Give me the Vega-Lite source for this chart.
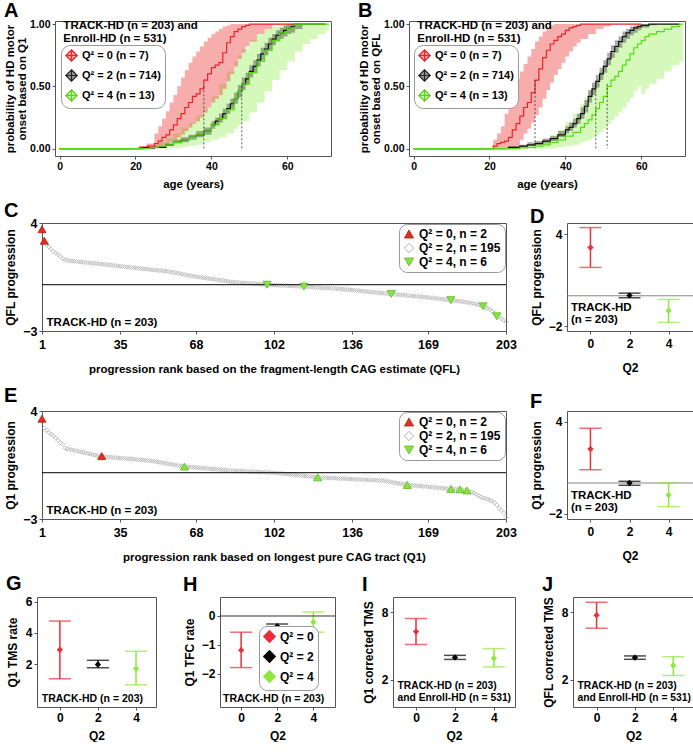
{
"$schema":"https://vega.github.io/schema/vega-lite/v6.json",
"padding":{"left":3,"top":0,"right":0,"bottom":0},
"background":"white",
"config":{
 "font":"Liberation Sans",
 "view":{"stroke":"#555555","strokeWidth":1},
 "axis":{"grid":false,"domain":false,"ticks":true,"tickSize":3,"tickColor":"#555555","labelFont":"Liberation Sans","labelFontSize":12,"labelFontWeight":"bold","labelColor":"#000000","labelPadding":2,"labelFlush":false,"labelOverlap":false,"titleFont":"Liberation Sans","titleFontSize":12,"titleFontWeight":"bold","titleColor":"#000000","titlePadding":5},
 "axisX":{"titlePadding":13,"labelPadding":4},
 "legend":{"labelFont":"Liberation Sans","labelFontSize":12,"labelFontWeight":"bold","labelColor":"#000000","fillColor":"white","strokeColor":"#999999","cornerRadius":8,"padding":4,"rowPadding":1,"symbolStrokeWidth":0.8},
 "title":{"font":"Liberation Sans","fontSize":20,"fontWeight":"bold","anchor":"start","frame":"bounds","offset":0,"color":"#000000"}
},
"datasets":{
 "A":[
  {"g":0,"a":0,"p":0,"lo":0,"hi":0},{"g":0,"a":21,"p":0.01,"lo":0,"hi":0.02},{"g":0,"a":23,"p":0.02,"lo":0,"hi":0.04},{"g":0,"a":25,"p":0.04,"lo":0,"hi":0.12},{"g":0,"a":26,"p":0.06,"lo":0.01,"hi":0.18},{"g":0,"a":27,"p":0.09,"lo":0.02,"hi":0.24},{"g":0,"a":28,"p":0.11,"lo":0.03,"hi":0.30},{"g":0,"a":29,"p":0.15,"lo":0.05,"hi":0.37},{"g":0,"a":30,"p":0.19,"lo":0.07,"hi":0.43},{"g":0,"a":31,"p":0.24,"lo":0.09,"hi":0.50},{"g":0,"a":32,"p":0.28,"lo":0.11,"hi":0.57},{"g":0,"a":33,"p":0.33,"lo":0.14,"hi":0.63},{"g":0,"a":34,"p":0.37,"lo":0.17,"hi":0.69},{"g":0,"a":35,"p":0.42,"lo":0.20,"hi":0.74},{"g":0,"a":36,"p":0.44,"lo":0.22,"hi":0.78},{"g":0,"a":37,"p":0.48,"lo":0.25,"hi":0.82},{"g":0,"a":38,"p":0.55,"lo":0.29,"hi":0.86},{"g":0,"a":39,"p":0.60,"lo":0.33,"hi":0.89},{"g":0,"a":40,"p":0.65,"lo":0.37,"hi":0.92},{"g":0,"a":41,"p":0.67,"lo":0.40,"hi":0.94},{"g":0,"a":42,"p":0.69,"lo":0.43,"hi":0.96},{"g":0,"a":43,"p":0.77,"lo":0.48,"hi":0.98},{"g":0,"a":44,"p":0.85,"lo":0.54,"hi":0.99},{"g":0,"a":45,"p":0.90,"lo":0.60,"hi":1},{"g":0,"a":46,"p":0.94,"lo":0.66,"hi":1},{"g":0,"a":47,"p":0.96,"lo":0.72,"hi":1},{"g":0,"a":48,"p":0.98,"lo":0.77,"hi":1},{"g":0,"a":49,"p":0.99,"lo":0.82,"hi":1},{"g":0,"a":50,"p":1,"lo":0.86,"hi":1},{"g":0,"a":52,"p":1,"lo":0.92,"hi":1},{"g":0,"a":54,"p":1,"lo":0.96,"hi":1},{"g":0,"a":56,"p":1,"lo":0.99,"hi":1},{"g":0,"a":58,"p":1,"lo":1,"hi":1},{"g":0,"a":62,"p":1,"lo":1,"hi":1},
  {"g":2,"a":0,"p":0,"lo":0,"hi":0},{"g":2,"a":22,"p":0.005,"lo":0,"hi":0.01},{"g":2,"a":25,"p":0.01,"lo":0.005,"hi":0.02},{"g":2,"a":28,"p":0.03,"lo":0.02,"hi":0.04},{"g":2,"a":30,"p":0.05,"lo":0.04,"hi":0.07},{"g":2,"a":32,"p":0.07,"lo":0.05,"hi":0.09},{"g":2,"a":34,"p":0.09,"lo":0.07,"hi":0.11},{"g":2,"a":36,"p":0.11,"lo":0.09,"hi":0.14},{"g":2,"a":38,"p":0.14,"lo":0.11,"hi":0.17},{"g":2,"a":40,"p":0.19,"lo":0.16,"hi":0.22},{"g":2,"a":41,"p":0.22,"lo":0.19,"hi":0.25},{"g":2,"a":42,"p":0.24,"lo":0.21,"hi":0.28},{"g":2,"a":43,"p":0.28,"lo":0.24,"hi":0.32},{"g":2,"a":44,"p":0.32,"lo":0.28,"hi":0.36},{"g":2,"a":45,"p":0.36,"lo":0.32,"hi":0.40},{"g":2,"a":46,"p":0.40,"lo":0.36,"hi":0.45},{"g":2,"a":47,"p":0.46,"lo":0.41,"hi":0.51},{"g":2,"a":48,"p":0.52,"lo":0.47,"hi":0.57},{"g":2,"a":49,"p":0.56,"lo":0.51,"hi":0.61},{"g":2,"a":50,"p":0.62,"lo":0.57,"hi":0.67},{"g":2,"a":51,"p":0.66,"lo":0.61,"hi":0.71},{"g":2,"a":52,"p":0.71,"lo":0.66,"hi":0.76},{"g":2,"a":53,"p":0.76,"lo":0.71,"hi":0.81},{"g":2,"a":54,"p":0.80,"lo":0.75,"hi":0.85},{"g":2,"a":55,"p":0.84,"lo":0.79,"hi":0.89},{"g":2,"a":56,"p":0.88,"lo":0.83,"hi":0.92},{"g":2,"a":57,"p":0.91,"lo":0.86,"hi":0.95},{"g":2,"a":58,"p":0.93,"lo":0.88,"hi":0.97},{"g":2,"a":59,"p":0.95,"lo":0.90,"hi":0.99},{"g":2,"a":60,"p":0.97,"lo":0.92,"hi":1},{"g":2,"a":61,"p":0.98,"lo":0.93,"hi":1},{"g":2,"a":62,"p":1,"lo":0.96,"hi":1},{"g":2,"a":64,"p":1,"lo":1,"hi":1},{"g":2,"a":70,"p":1,"lo":1,"hi":1},
  {"g":4,"a":0,"p":0,"lo":0,"hi":0},{"g":4,"a":24,"p":0.01,"lo":0,"hi":0.03},{"g":4,"a":26,"p":0.02,"lo":0,"hi":0.05},{"g":4,"a":28,"p":0.03,"lo":0,"hi":0.08},{"g":4,"a":30,"p":0.05,"lo":0,"hi":0.12},{"g":4,"a":32,"p":0.07,"lo":0.01,"hi":0.17},{"g":4,"a":34,"p":0.09,"lo":0.02,"hi":0.21},{"g":4,"a":36,"p":0.11,"lo":0.03,"hi":0.27},{"g":4,"a":38,"p":0.14,"lo":0.05,"hi":0.33},{"g":4,"a":40,"p":0.19,"lo":0.07,"hi":0.42},{"g":4,"a":42,"p":0.24,"lo":0.09,"hi":0.52},{"g":4,"a":44,"p":0.31,"lo":0.12,"hi":0.62},{"g":4,"a":46,"p":0.40,"lo":0.16,"hi":0.70},{"g":4,"a":47,"p":0.46,"lo":0.19,"hi":0.75},{"g":4,"a":48,"p":0.52,"lo":0.22,"hi":0.80},{"g":4,"a":50,"p":0.61,"lo":0.29,"hi":0.87},{"g":4,"a":52,"p":0.70,"lo":0.37,"hi":0.92},{"g":4,"a":54,"p":0.79,"lo":0.46,"hi":0.96},{"g":4,"a":56,"p":0.87,"lo":0.55,"hi":0.98},{"g":4,"a":58,"p":0.93,"lo":0.63,"hi":1},{"g":4,"a":60,"p":0.97,"lo":0.70,"hi":1},{"g":4,"a":62,"p":1,"lo":0.78,"hi":1},{"g":4,"a":64,"p":1,"lo":0.84,"hi":1},{"g":4,"a":66,"p":1,"lo":0.88,"hi":1},{"g":4,"a":68,"p":1,"lo":0.92,"hi":1},{"g":4,"a":70,"p":1,"lo":0.95,"hi":1},{"g":4,"a":71,"p":1,"lo":0.95,"hi":1}
 ],
 "Amed":[{"g":0,"a":38,"p":0.5},{"g":2,"a":48,"p":0.5}],
 "B":[
  {"g":0,"a":0,"p":0,"lo":0,"hi":0},{"g":0,"a":21,"p":0.02,"lo":0,"hi":0.07},{"g":0,"a":22,"p":0.04,"lo":0,"hi":0.12},{"g":0,"a":23,"p":0.05,"lo":0,"hi":0.18},{"g":0,"a":24,"p":0.06,"lo":0,"hi":0.28},{"g":0,"a":25,"p":0.09,"lo":0,"hi":0.38},{"g":0,"a":26,"p":0.15,"lo":0,"hi":0.48},{"g":0,"a":27,"p":0.20,"lo":0.02,"hi":0.56},{"g":0,"a":28,"p":0.26,"lo":0.07,"hi":0.62},{"g":0,"a":29,"p":0.33,"lo":0.12,"hi":0.68},{"g":0,"a":30,"p":0.37,"lo":0.16,"hi":0.74},{"g":0,"a":31,"p":0.45,"lo":0.21,"hi":0.80},{"g":0,"a":32,"p":0.55,"lo":0.27,"hi":0.86},{"g":0,"a":33,"p":0.64,"lo":0.33,"hi":0.90},{"g":0,"a":34,"p":0.73,"lo":0.40,"hi":0.94},{"g":0,"a":35,"p":0.79,"lo":0.47,"hi":0.97},{"g":0,"a":36,"p":0.84,"lo":0.53,"hi":0.99},{"g":0,"a":37,"p":0.87,"lo":0.59,"hi":1},{"g":0,"a":38,"p":0.90,"lo":0.64,"hi":1},{"g":0,"a":39,"p":0.92,"lo":0.69,"hi":1},{"g":0,"a":40,"p":0.95,"lo":0.74,"hi":1},{"g":0,"a":41,"p":0.97,"lo":0.78,"hi":1},{"g":0,"a":42,"p":0.98,"lo":0.82,"hi":1},{"g":0,"a":43,"p":0.99,"lo":0.85,"hi":1},{"g":0,"a":44,"p":1,"lo":0.88,"hi":1},{"g":0,"a":46,"p":1,"lo":0.92,"hi":1},{"g":0,"a":48,"p":1,"lo":0.96,"hi":1},{"g":0,"a":50,"p":1,"lo":0.98,"hi":1},{"g":0,"a":52,"p":1,"lo":1,"hi":1},{"g":0,"a":60,"p":1,"lo":1,"hi":1},
  {"g":2,"a":0,"p":0,"lo":0,"hi":0},{"g":2,"a":25,"p":0.01,"lo":0,"hi":0.02},{"g":2,"a":28,"p":0.02,"lo":0.01,"hi":0.03},{"g":2,"a":30,"p":0.03,"lo":0.02,"hi":0.05},{"g":2,"a":32,"p":0.04,"lo":0.03,"hi":0.06},{"g":2,"a":34,"p":0.06,"lo":0.04,"hi":0.08},{"g":2,"a":36,"p":0.08,"lo":0.06,"hi":0.10},{"g":2,"a":38,"p":0.11,"lo":0.09,"hi":0.14},{"g":2,"a":40,"p":0.15,"lo":0.12,"hi":0.18},{"g":2,"a":41,"p":0.17,"lo":0.14,"hi":0.21},{"g":2,"a":42,"p":0.20,"lo":0.17,"hi":0.24},{"g":2,"a":43,"p":0.24,"lo":0.20,"hi":0.28},{"g":2,"a":44,"p":0.28,"lo":0.24,"hi":0.33},{"g":2,"a":45,"p":0.34,"lo":0.29,"hi":0.39},{"g":2,"a":46,"p":0.42,"lo":0.37,"hi":0.47},{"g":2,"a":47,"p":0.48,"lo":0.43,"hi":0.53},{"g":2,"a":48,"p":0.54,"lo":0.49,"hi":0.59},{"g":2,"a":49,"p":0.60,"lo":0.55,"hi":0.65},{"g":2,"a":50,"p":0.66,"lo":0.61,"hi":0.71},{"g":2,"a":51,"p":0.72,"lo":0.67,"hi":0.77},{"g":2,"a":52,"p":0.78,"lo":0.73,"hi":0.83},{"g":2,"a":53,"p":0.82,"lo":0.77,"hi":0.87},{"g":2,"a":54,"p":0.86,"lo":0.81,"hi":0.90},{"g":2,"a":55,"p":0.90,"lo":0.85,"hi":0.94},{"g":2,"a":56,"p":0.93,"lo":0.88,"hi":0.96},{"g":2,"a":57,"p":0.95,"lo":0.91,"hi":0.98},{"g":2,"a":58,"p":0.97,"lo":0.93,"hi":0.99},{"g":2,"a":59,"p":0.98,"lo":0.95,"hi":1},{"g":2,"a":60,"p":0.99,"lo":0.97,"hi":1},{"g":2,"a":62,"p":1,"lo":0.99,"hi":1},{"g":2,"a":64,"p":1,"lo":1,"hi":1},{"g":2,"a":70,"p":1,"lo":1,"hi":1},
  {"g":4,"a":0,"p":0,"lo":0,"hi":0},{"g":4,"a":28,"p":0.005,"lo":0,"hi":0.02},{"g":4,"a":30,"p":0.01,"lo":0,"hi":0.03},{"g":4,"a":32,"p":0.02,"lo":0,"hi":0.05},{"g":4,"a":34,"p":0.03,"lo":0,"hi":0.07},{"g":4,"a":36,"p":0.05,"lo":0,"hi":0.11},{"g":4,"a":38,"p":0.07,"lo":0.01,"hi":0.15},{"g":4,"a":40,"p":0.10,"lo":0.02,"hi":0.21},{"g":4,"a":42,"p":0.13,"lo":0.03,"hi":0.28},{"g":4,"a":44,"p":0.17,"lo":0.05,"hi":0.36},{"g":4,"a":45,"p":0.20,"lo":0.06,"hi":0.41},{"g":4,"a":46,"p":0.23,"lo":0.07,"hi":0.46},{"g":4,"a":47,"p":0.27,"lo":0.09,"hi":0.51},{"g":4,"a":48,"p":0.32,"lo":0.11,"hi":0.56},{"g":4,"a":49,"p":0.37,"lo":0.13,"hi":0.62},{"g":4,"a":50,"p":0.42,"lo":0.16,"hi":0.67},{"g":4,"a":51,"p":0.50,"lo":0.20,"hi":0.73},{"g":4,"a":52,"p":0.55,"lo":0.23,"hi":0.77},{"g":4,"a":53,"p":0.58,"lo":0.26,"hi":0.81},{"g":4,"a":54,"p":0.62,"lo":0.29,"hi":0.84},{"g":4,"a":55,"p":0.67,"lo":0.33,"hi":0.88},{"g":4,"a":56,"p":0.71,"lo":0.37,"hi":0.91},{"g":4,"a":57,"p":0.76,"lo":0.41,"hi":0.94},{"g":4,"a":58,"p":0.81,"lo":0.46,"hi":0.97},{"g":4,"a":59,"p":0.84,"lo":0.50,"hi":0.99},{"g":4,"a":60,"p":0.87,"lo":0.44,"hi":1},{"g":4,"a":61,"p":0.90,"lo":0.48,"hi":1},{"g":4,"a":62,"p":0.92,"lo":0.52,"hi":1},{"g":4,"a":64,"p":0.94,"lo":0.56,"hi":1},{"g":4,"a":66,"p":0.96,"lo":0.62,"hi":1},{"g":4,"a":68,"p":0.98,"lo":0.67,"hi":1},{"g":4,"a":70,"p":1,"lo":0.70,"hi":1},{"g":4,"a":71,"p":1,"lo":0.70,"hi":1}
 ],
 "Bmed":[{"g":0,"a":32,"p":0.55},{"g":2,"a":48,"p":0.5},{"g":4,"a":51,"p":0.52}],
 "Cg":[{"r":3,"v":2.62},{"r":4,"v":2.45},{"r":5,"v":2.30},{"r":6,"v":2.15},{"r":7,"v":2.05},{"r":8,"v":1.95},{"r":9,"v":1.85},{"r":10,"v":1.70},{"r":11,"v":1.62},{"r":12,"v":1.58},{"r":13,"v":1.55},{"r":14,"v":1.53},{"r":15,"v":1.52},{"r":16,"v":1.50},{"r":17,"v":1.49},{"r":18,"v":1.47},{"r":19,"v":1.46},{"r":20,"v":1.44},{"r":21,"v":1.43},{"r":22,"v":1.41},{"r":23,"v":1.40},{"r":24,"v":1.38},{"r":25,"v":1.37},{"r":26,"v":1.35},{"r":27,"v":1.33},{"r":28,"v":1.32},{"r":29,"v":1.30},{"r":30,"v":1.28},{"r":31,"v":1.27},{"r":32,"v":1.25},{"r":33,"v":1.23},{"r":34,"v":1.22},{"r":35,"v":1.20},{"r":36,"v":1.18},{"r":37,"v":1.17},{"r":38,"v":1.15},{"r":39,"v":1.13},{"r":40,"v":1.12},{"r":41,"v":1.10},{"r":42,"v":1.08},{"r":43,"v":1.07},{"r":44,"v":1.05},{"r":45,"v":1.03},{"r":46,"v":1.02},{"r":47,"v":1.00},{"r":48,"v":0.98},{"r":49,"v":0.97},{"r":50,"v":0.95},{"r":51,"v":0.94},{"r":52,"v":0.92},{"r":53,"v":0.91},{"r":54,"v":0.89},{"r":55,"v":0.88},{"r":56,"v":0.85},{"r":57,"v":0.83},{"r":58,"v":0.80},{"r":59,"v":0.78},{"r":60,"v":0.75},{"r":61,"v":0.72},{"r":62,"v":0.69},{"r":63,"v":0.66},{"r":64,"v":0.63},{"r":65,"v":0.60},{"r":66,"v":0.58},{"r":67,"v":0.55},{"r":68,"v":0.53},{"r":69,"v":0.50},{"r":70,"v":0.48},{"r":71,"v":0.46},{"r":72,"v":0.44},{"r":73,"v":0.41},{"r":74,"v":0.39},{"r":75,"v":0.37},{"r":76,"v":0.35},{"r":77,"v":0.33},{"r":78,"v":0.30},{"r":79,"v":0.28},{"r":80,"v":0.26},{"r":81,"v":0.24},{"r":82,"v":0.22},{"r":83,"v":0.19},{"r":84,"v":0.17},{"r":85,"v":0.16},{"r":86,"v":0.15},{"r":87,"v":0.14},{"r":88,"v":0.12},{"r":89,"v":0.11},{"r":90,"v":0.10},{"r":91,"v":0.09},{"r":92,"v":0.08},{"r":93,"v":0.07},{"r":94,"v":0.06},{"r":95,"v":0.05},{"r":96,"v":0.03},{"r":97,"v":0.02},{"r":98,"v":0.01},{"r":100,"v":-0.01},{"r":101,"v":-0.02},{"r":102,"v":-0.02},{"r":103,"v":-0.03},{"r":104,"v":-0.04},{"r":105,"v":-0.05},{"r":106,"v":-0.05},{"r":107,"v":-0.06},{"r":108,"v":-0.07},{"r":109,"v":-0.08},{"r":110,"v":-0.08},{"r":111,"v":-0.09},{"r":112,"v":-0.10},{"r":113,"v":-0.11},{"r":114,"v":-0.11},{"r":116,"v":-0.13},{"r":117,"v":-0.14},{"r":118,"v":-0.15},{"r":119,"v":-0.16},{"r":120,"v":-0.17},{"r":121,"v":-0.18},{"r":122,"v":-0.19},{"r":123,"v":-0.20},{"r":124,"v":-0.21},{"r":125,"v":-0.22},{"r":126,"v":-0.23},{"r":127,"v":-0.24},{"r":128,"v":-0.25},{"r":129,"v":-0.26},{"r":130,"v":-0.27},{"r":131,"v":-0.28},{"r":132,"v":-0.29},{"r":133,"v":-0.31},{"r":134,"v":-0.32},{"r":135,"v":-0.33},{"r":136,"v":-0.35},{"r":137,"v":-0.36},{"r":138,"v":-0.38},{"r":139,"v":-0.39},{"r":140,"v":-0.41},{"r":141,"v":-0.42},{"r":142,"v":-0.44},{"r":143,"v":-0.45},{"r":144,"v":-0.47},{"r":145,"v":-0.48},{"r":146,"v":-0.50},{"r":147,"v":-0.51},{"r":148,"v":-0.53},{"r":149,"v":-0.54},{"r":150,"v":-0.56},{"r":151,"v":-0.57},{"r":152,"v":-0.59},{"r":154,"v":-0.61},{"r":155,"v":-0.63},{"r":156,"v":-0.64},{"r":157,"v":-0.66},{"r":158,"v":-0.67},{"r":159,"v":-0.68},{"r":160,"v":-0.70},{"r":161,"v":-0.71},{"r":162,"v":-0.73},{"r":163,"v":-0.74},{"r":164,"v":-0.75},{"r":165,"v":-0.77},{"r":166,"v":-0.78},{"r":167,"v":-0.80},{"r":168,"v":-0.81},{"r":169,"v":-0.82},{"r":170,"v":-0.84},{"r":171,"v":-0.86},{"r":172,"v":-0.88},{"r":173,"v":-0.89},{"r":174,"v":-0.91},{"r":175,"v":-0.93},{"r":176,"v":-0.95},{"r":177,"v":-0.96},{"r":178,"v":-0.98},{"r":180,"v":-1.02},{"r":181,"v":-1.04},{"r":182,"v":-1.06},{"r":183,"v":-1.08},{"r":184,"v":-1.10},{"r":185,"v":-1.12},{"r":186,"v":-1.15},{"r":187,"v":-1.17},{"r":188,"v":-1.20},{"r":189,"v":-1.22},{"r":190,"v":-1.25},{"r":191,"v":-1.30},{"r":192,"v":-1.35},{"r":194,"v":-1.47},{"r":195,"v":-1.53},{"r":196,"v":-1.60},{"r":197,"v":-1.72},{"r":198,"v":-1.85},{"r":200,"v":-2.10},{"r":201,"v":-2.20},{"r":202,"v":-2.30},{"r":203,"v":-2.40}],
 "Cc":[{"r":1,"v":3.6,"g":0},{"r":2,"v":2.85,"g":0},{"r":99,"v":0.0,"g":4},{"r":115,"v":-0.12,"g":4},{"r":153,"v":-0.6,"g":4},{"r":179,"v":-1.0,"g":4},{"r":193,"v":-1.4,"g":4},{"r":199,"v":-2.05,"g":4}],
 "Eg":[{"r":2,"v":2.90},{"r":3,"v":2.75},{"r":4,"v":2.60},{"r":5,"v":2.50},{"r":6,"v":2.40},{"r":7,"v":2.25},{"r":8,"v":2.10},{"r":9,"v":1.95},{"r":10,"v":1.85},{"r":11,"v":1.60},{"r":12,"v":1.55},{"r":13,"v":1.52},{"r":14,"v":1.49},{"r":15,"v":1.45},{"r":16,"v":1.42},{"r":17,"v":1.38},{"r":18,"v":1.35},{"r":19,"v":1.31},{"r":20,"v":1.28},{"r":21,"v":1.24},{"r":22,"v":1.21},{"r":23,"v":1.17},{"r":24,"v":1.14},{"r":25,"v":1.10},{"r":26,"v":1.07},{"r":28,"v":1.04},{"r":29,"v":1.02},{"r":30,"v":1.01},{"r":31,"v":1.00},{"r":32,"v":0.99},{"r":33,"v":0.97},{"r":34,"v":0.96},{"r":35,"v":0.95},{"r":36,"v":0.94},{"r":37,"v":0.92},{"r":38,"v":0.91},{"r":39,"v":0.90},{"r":40,"v":0.89},{"r":41,"v":0.87},{"r":42,"v":0.86},{"r":43,"v":0.85},{"r":44,"v":0.84},{"r":45,"v":0.82},{"r":46,"v":0.81},{"r":47,"v":0.80},{"r":48,"v":0.78},{"r":49,"v":0.75},{"r":50,"v":0.73},{"r":51,"v":0.70},{"r":52,"v":0.68},{"r":53,"v":0.65},{"r":54,"v":0.63},{"r":55,"v":0.60},{"r":56,"v":0.58},{"r":57,"v":0.55},{"r":58,"v":0.53},{"r":59,"v":0.50},{"r":60,"v":0.48},{"r":61,"v":0.45},{"r":62,"v":0.43},{"r":64,"v":0.39},{"r":65,"v":0.37},{"r":66,"v":0.36},{"r":67,"v":0.35},{"r":68,"v":0.34},{"r":69,"v":0.32},{"r":70,"v":0.31},{"r":71,"v":0.30},{"r":72,"v":0.28},{"r":73,"v":0.27},{"r":74,"v":0.26},{"r":75,"v":0.24},{"r":76,"v":0.23},{"r":77,"v":0.22},{"r":78,"v":0.21},{"r":79,"v":0.19},{"r":80,"v":0.18},{"r":81,"v":0.17},{"r":82,"v":0.15},{"r":83,"v":0.14},{"r":84,"v":0.13},{"r":85,"v":0.12},{"r":86,"v":0.12},{"r":87,"v":0.11},{"r":88,"v":0.10},{"r":89,"v":0.09},{"r":90,"v":0.09},{"r":91,"v":0.08},{"r":92,"v":0.07},{"r":93,"v":0.06},{"r":94,"v":0.06},{"r":95,"v":0.05},{"r":96,"v":0.04},{"r":97,"v":0.03},{"r":98,"v":0.03},{"r":99,"v":0.02},{"r":100,"v":0.01},{"r":101,"v":0.01},{"r":102,"v":0.00},{"r":103,"v":-0.02},{"r":104,"v":-0.03},{"r":105,"v":-0.05},{"r":106,"v":-0.06},{"r":107,"v":-0.08},{"r":108,"v":-0.09},{"r":109,"v":-0.11},{"r":110,"v":-0.13},{"r":111,"v":-0.14},{"r":112,"v":-0.16},{"r":113,"v":-0.17},{"r":114,"v":-0.19},{"r":115,"v":-0.21},{"r":116,"v":-0.22},{"r":117,"v":-0.24},{"r":118,"v":-0.25},{"r":119,"v":-0.27},{"r":120,"v":-0.28},{"r":122,"v":-0.31},{"r":123,"v":-0.32},{"r":124,"v":-0.32},{"r":125,"v":-0.33},{"r":126,"v":-0.34},{"r":127,"v":-0.35},{"r":128,"v":-0.35},{"r":129,"v":-0.36},{"r":130,"v":-0.37},{"r":131,"v":-0.38},{"r":132,"v":-0.38},{"r":133,"v":-0.39},{"r":134,"v":-0.40},{"r":135,"v":-0.41},{"r":136,"v":-0.41},{"r":137,"v":-0.42},{"r":138,"v":-0.43},{"r":139,"v":-0.44},{"r":140,"v":-0.44},{"r":141,"v":-0.45},{"r":142,"v":-0.46},{"r":143,"v":-0.47},{"r":144,"v":-0.47},{"r":145,"v":-0.48},{"r":146,"v":-0.49},{"r":147,"v":-0.50},{"r":148,"v":-0.50},{"r":149,"v":-0.51},{"r":150,"v":-0.52},{"r":151,"v":-0.55},{"r":152,"v":-0.57},{"r":153,"v":-0.60},{"r":154,"v":-0.63},{"r":155,"v":-0.66},{"r":156,"v":-0.68},{"r":157,"v":-0.71},{"r":158,"v":-0.74},{"r":159,"v":-0.76},{"r":161,"v":-0.80},{"r":162,"v":-0.82},{"r":163,"v":-0.83},{"r":164,"v":-0.84},{"r":165,"v":-0.86},{"r":166,"v":-0.87},{"r":167,"v":-0.89},{"r":168,"v":-0.90},{"r":169,"v":-0.91},{"r":170,"v":-0.93},{"r":171,"v":-0.94},{"r":172,"v":-0.95},{"r":173,"v":-0.97},{"r":174,"v":-0.98},{"r":175,"v":-1.00},{"r":176,"v":-1.01},{"r":177,"v":-1.02},{"r":178,"v":-1.04},{"r":180,"v":-1.06},{"r":181,"v":-1.06},{"r":182,"v":-1.07},{"r":184,"v":-1.10},{"r":185,"v":-1.12},{"r":187,"v":-1.20},{"r":188,"v":-1.25},{"r":189,"v":-1.32},{"r":190,"v":-1.40},{"r":191,"v":-1.48},{"r":192,"v":-1.57},{"r":193,"v":-1.63},{"r":194,"v":-1.68},{"r":195,"v":-1.72},{"r":196,"v":-1.78},{"r":197,"v":-1.85},{"r":198,"v":-1.95},{"r":199,"v":-2.10},{"r":200,"v":-2.30},{"r":201,"v":-2.45},{"r":202,"v":-2.60},{"r":203,"v":-2.90}],
 "Ec":[{"r":1,"v":3.5,"g":0},{"r":27,"v":1.08,"g":0},{"r":63,"v":0.4,"g":4},{"r":121,"v":-0.3,"g":4},{"r":160,"v":-0.79,"g":4},{"r":179,"v":-1.05,"g":4},{"r":183,"v":-1.08,"g":4},{"r":186,"v":-1.15,"g":4}],
 "D":[{"q":0,"m":3.15,"lo":1.85,"hi":4.45},{"q":2,"m":0.02,"lo":-0.13,"hi":0.17},{"q":4,"m":-0.97,"lo":-1.74,"hi":-0.24}],
 "F":[{"q":0,"m":2.23,"lo":0.87,"hi":3.59},{"q":2,"m":0.0,"lo":-0.15,"hi":0.11},{"q":4,"m":-0.79,"lo":-1.55,"hi":0.0}],
 "G":[{"q":0,"m":2.92,"lo":1.05,"hi":4.77},{"q":2,"m":1.97,"lo":1.76,"hi":2.24},{"q":4,"m":1.7,"lo":0.66,"hi":2.82}],
 "H":[{"q":0,"m":-1.18,"lo":-1.78,"hi":-0.56},{"q":2,"m":-0.35,"lo":-0.41,"hi":-0.28},{"q":4,"m":-0.21,"lo":-0.56,"hi":0.14}],
 "I":[{"q":0,"m":6.27,"lo":5.12,"hi":7.43},{"q":2,"m":3.97,"lo":3.79,"hi":4.15},{"q":4,"m":3.9,"lo":3.12,"hi":4.75}],
 "J":[{"q":0,"m":7.73,"lo":6.57,"hi":8.88},{"q":2,"m":3.95,"lo":3.8,"hi":4.1},{"q":4,"m":3.25,"lo":2.36,"hi":4.03}]
},
"spacing":9,
"resolve":{"scale":{"color":"independent","shape":"independent","fill":"independent","stroke":"independent"},"legend":{"color":"independent","shape":"independent","fill":"independent","stroke":"independent"}},
"vconcat":[
 {"bounds":"flush","spacing":0,
  "resolve":{"scale":{"color":"independent","shape":"independent","fill":"independent","stroke":"independent"},"legend":{"color":"independent","shape":"independent","fill":"independent","stroke":"independent"}},
  "hconcat":[
  {"width":18,"height":1,"view":{"stroke":null},"data":{"values":[{}]},"mark":{"type":"point","opacity":0}},
  {"spacing":24,
   "resolve":{"scale":{"color":"independent","shape":"independent","fill":"independent","stroke":"independent"},"legend":{"color":"independent","shape":"independent","fill":"independent","stroke":"independent"}},
   "hconcat":[
   {"title":{"text":"A","offset":-2},"width":276,"height":135,
    "layer":[
     {"data":{"name":"A"},"transform":[{"filter":"datum.g==4"}],"mark":{"type":"area","interpolate":"step-after","color":"#86ec3c","opacity":0.35},"encoding":{"x":{"field":"a","type":"quantitative","scale":{"domain":[-1.2,71.5],"nice":false,"zero":false},"axis":{"values":[0,10,20,30,40,50,60,70],"labelFontSize":10.5,"labelPadding":2,"titlePadding":7,"titleFontSize":11.5},"title":"age (years)"},"y":{"field":"lo","type":"quantitative","scale":{"domain":[-0.06,1.025],"nice":false,"zero":false},"axis":{"values":[0,0.25,0.5,0.75,1],"format":".2f","labelFontSize":10.5,"minExtent":26,"maxExtent":26,"titlePadding":2,"titleFontSize":11.5,"titleLineHeight":12},"title":["probability of HD motor","onset based on Q1"]},"y2":{"field":"hi"}}},
     {"data":{"name":"A"},"transform":[{"filter":"datum.g==2"}],"mark":{"type":"area","interpolate":"step-after","color":"#444444","opacity":0.45},"encoding":{"x":{"field":"a","type":"quantitative"},"y":{"field":"lo","type":"quantitative"},"y2":{"field":"hi"}}},
     {"data":{"name":"A"},"transform":[{"filter":"datum.g==0"}],"mark":{"type":"area","interpolate":"step-after","color":"#ee3333","opacity":0.4},"encoding":{"x":{"field":"a","type":"quantitative"},"y":{"field":"lo","type":"quantitative"},"y2":{"field":"hi"}}},
     {"data":{"name":"A"},"transform":[{"filter":"datum.g==0"}],"mark":{"type":"line","interpolate":"step-after","color":"#e8242b","strokeWidth":1.2},"encoding":{"x":{"field":"a","type":"quantitative"},"y":{"field":"p","type":"quantitative"}}},
     {"data":{"name":"A"},"transform":[{"filter":"datum.g==2"}],"mark":{"type":"line","interpolate":"step-after","color":"#111111","strokeWidth":1.2},"encoding":{"x":{"field":"a","type":"quantitative"},"y":{"field":"p","type":"quantitative"}}},
     {"data":{"name":"A"},"transform":[{"filter":"datum.g==4"}],"mark":{"type":"line","interpolate":"step-after","color":"#55dd11","strokeWidth":1.2},"encoding":{"x":{"field":"a","type":"quantitative"},"y":{"field":"p","type":"quantitative"}}},
     {"data":{"name":"Amed"},"mark":{"type":"rule","strokeDash":[2,2],"color":"#333333","strokeWidth":0.8},"encoding":{"x":{"field":"a","type":"quantitative"},"y":{"field":"p","type":"quantitative"},"y2":{"datum":0}}},
     {"data":{"values":[{"t":"TRACK-HD (n = 203) and\nEnroll-HD (n = 531)"}]},"mark":{"type":"text","align":"left","baseline":"top","lineBreak":"\n","fontSize":11.5,"fontWeight":"bold","lineHeight":13,"color":"#000000"},"encoding":{"x":{"datum":1,"type":"quantitative"},"y":{"datum":1.03,"type":"quantitative"},"text":{"field":"t","type":"nominal"}}},
     {"data":{"name":"A"},"transform":[{"filter":"datum.a==0"}],"mark":{"type":"point","opacity":0,"filled":true},"encoding":{"x":{"field":"a","type":"quantitative"},"y":{"field":"p","type":"quantitative"},
       "shape":{"field":"g","type":"nominal","scale":{"domain":[0,2,4],"range":["M0,-1L1,0L0,1L-1,0ZM-1,0L1,0M0,-1L0,1","M0,-1L1,0L0,1L-1,0ZM-1,0L1,0M0,-1L0,1","M0,-1L1,0L0,1L-1,0ZM-1,0L1,0M0,-1L0,1"]},"legend":{"title":null,"orient":"none","legendX":6,"legendY":24,"symbolSize":130,"symbolOpacity":1,"symbolStrokeWidth":1.2,"rowPadding":3,"labelFontSize":11,"cornerRadius":9,"labelExpr":"datum.value==0?'Q² = 0 (n = 7)':datum.value==2?'Q² = 2 (n = 714)':'Q² = 4 (n = 13)'"}},
       "fill":{"field":"g","type":"nominal","scale":{"domain":[0,2,4],"range":["#f29b9b","#9b9b9b","#c4f59e"]},"legend":{"title":null,"orient":"none","legendX":6,"legendY":24,"symbolSize":130,"symbolOpacity":1,"symbolStrokeWidth":1.2,"rowPadding":3,"labelFontSize":11,"cornerRadius":9,"labelExpr":"datum.value==0?'Q² = 0 (n = 7)':datum.value==2?'Q² = 2 (n = 714)':'Q² = 4 (n = 13)'"}},
       "stroke":{"field":"g","type":"nominal","scale":{"domain":[0,2,4],"range":["#e8242b","#222222","#5ad01e"]},"legend":{"title":null,"orient":"none","legendX":6,"legendY":24,"symbolSize":130,"symbolOpacity":1,"symbolStrokeWidth":1.2,"rowPadding":3,"labelFontSize":11,"cornerRadius":9,"labelExpr":"datum.value==0?'Q² = 0 (n = 7)':datum.value==2?'Q² = 2 (n = 714)':'Q² = 4 (n = 13)'"}}}}
    ]},
   {"title":{"text":"B","offset":-2},"width":276,"height":135,
    "layer":[
     {"data":{"name":"B"},"transform":[{"filter":"datum.g==4"}],"mark":{"type":"area","interpolate":"step-after","color":"#86ec3c","opacity":0.35},"encoding":{"x":{"field":"a","type":"quantitative","scale":{"domain":[-1.2,71.5],"nice":false,"zero":false},"axis":{"values":[0,10,20,30,40,50,60,70],"labelFontSize":10.5,"labelPadding":2,"titlePadding":7,"titleFontSize":11.5},"title":"age (years)"},"y":{"field":"lo","type":"quantitative","scale":{"domain":[-0.06,1.025],"nice":false,"zero":false},"axis":{"values":[0,0.25,0.5,0.75,1],"format":".2f","labelFontSize":10.5,"minExtent":26,"maxExtent":26,"titlePadding":2,"titleFontSize":11.5,"titleLineHeight":12},"title":["probability of HD motor","onset based on QFL"]},"y2":{"field":"hi"}}},
     {"data":{"name":"B"},"transform":[{"filter":"datum.g==2"}],"mark":{"type":"area","interpolate":"step-after","color":"#444444","opacity":0.45},"encoding":{"x":{"field":"a","type":"quantitative"},"y":{"field":"lo","type":"quantitative"},"y2":{"field":"hi"}}},
     {"data":{"name":"B"},"transform":[{"filter":"datum.g==0"}],"mark":{"type":"area","interpolate":"step-after","color":"#ee3333","opacity":0.4},"encoding":{"x":{"field":"a","type":"quantitative"},"y":{"field":"lo","type":"quantitative"},"y2":{"field":"hi"}}},
     {"data":{"name":"B"},"transform":[{"filter":"datum.g==0"}],"mark":{"type":"line","interpolate":"step-after","color":"#e8242b","strokeWidth":1.2},"encoding":{"x":{"field":"a","type":"quantitative"},"y":{"field":"p","type":"quantitative"}}},
     {"data":{"name":"B"},"transform":[{"filter":"datum.g==2"}],"mark":{"type":"line","interpolate":"step-after","color":"#111111","strokeWidth":1.2},"encoding":{"x":{"field":"a","type":"quantitative"},"y":{"field":"p","type":"quantitative"}}},
     {"data":{"name":"B"},"transform":[{"filter":"datum.g==4"}],"mark":{"type":"line","interpolate":"step-after","color":"#55dd11","strokeWidth":1.2},"encoding":{"x":{"field":"a","type":"quantitative"},"y":{"field":"p","type":"quantitative"}}},
     {"data":{"name":"Bmed"},"mark":{"type":"rule","strokeDash":[2,2],"color":"#333333","strokeWidth":0.8},"encoding":{"x":{"field":"a","type":"quantitative"},"y":{"field":"p","type":"quantitative"},"y2":{"datum":0}}},
     {"data":{"values":[{"t":"TRACK-HD (n = 203) and\nEnroll-HD (n = 531)"}]},"mark":{"type":"text","align":"left","baseline":"top","lineBreak":"\n","fontSize":11.5,"fontWeight":"bold","lineHeight":13,"color":"#000000"},"encoding":{"x":{"datum":1,"type":"quantitative"},"y":{"datum":1.03,"type":"quantitative"},"text":{"field":"t","type":"nominal"}}},
     {"data":{"name":"B"},"transform":[{"filter":"datum.a==0"}],"mark":{"type":"point","opacity":0,"filled":true},"encoding":{"x":{"field":"a","type":"quantitative"},"y":{"field":"p","type":"quantitative"},
       "shape":{"field":"g","type":"nominal","scale":{"domain":[0,2,4],"range":["M0,-1L1,0L0,1L-1,0ZM-1,0L1,0M0,-1L0,1","M0,-1L1,0L0,1L-1,0ZM-1,0L1,0M0,-1L0,1","M0,-1L1,0L0,1L-1,0ZM-1,0L1,0M0,-1L0,1"]},"legend":{"title":null,"orient":"none","legendX":5,"legendY":24,"symbolSize":130,"symbolOpacity":1,"symbolStrokeWidth":1.2,"rowPadding":3,"labelFontSize":11,"cornerRadius":9,"labelExpr":"datum.value==0?'Q² = 0 (n = 7)':datum.value==2?'Q² = 2 (n = 714)':'Q² = 4 (n = 13)'"}},
       "fill":{"field":"g","type":"nominal","scale":{"domain":[0,2,4],"range":["#f29b9b","#9b9b9b","#c4f59e"]},"legend":{"title":null,"orient":"none","legendX":5,"legendY":24,"symbolSize":130,"symbolOpacity":1,"symbolStrokeWidth":1.2,"rowPadding":3,"labelFontSize":11,"cornerRadius":9,"labelExpr":"datum.value==0?'Q² = 0 (n = 7)':datum.value==2?'Q² = 2 (n = 714)':'Q² = 4 (n = 13)'"}},
       "stroke":{"field":"g","type":"nominal","scale":{"domain":[0,2,4],"range":["#e8242b","#222222","#5ad01e"]},"legend":{"title":null,"orient":"none","legendX":5,"legendY":24,"symbolSize":130,"symbolOpacity":1,"symbolStrokeWidth":1.2,"rowPadding":3,"labelFontSize":11,"cornerRadius":9,"labelExpr":"datum.value==0?'Q² = 0 (n = 7)':datum.value==2?'Q² = 2 (n = 714)':'Q² = 4 (n = 13)'"}}}}
    ]}
  ]}
 ]},
 {"bounds":"flush","spacing":0,
  "resolve":{"scale":{"color":"independent","shape":"independent","fill":"independent","stroke":"independent"},"legend":{"color":"independent","shape":"independent","fill":"independent","stroke":"independent"}},
  "hconcat":[
  {"width":5,"height":1,"view":{"stroke":null},"data":{"values":[{}]},"mark":{"type":"point","opacity":0}},
  {"spacing":12,
   "resolve":{"scale":{"color":"independent","shape":"independent","fill":"independent","stroke":"independent"},"legend":{"color":"independent","shape":"independent","fill":"independent","stroke":"independent"}},
   "hconcat":[
   {"title":{"text":"C","offset":-4},"width":464,"height":108,
    "layer":[
     {"data":{"name":"Cg"},"mark":{"type":"point","shape":"diamond","filled":false,"color":"#9a9a9a","strokeWidth":0.8,"size":18},"encoding":{"x":{"field":"r","type":"quantitative","scale":{"domain":[1,203],"nice":false,"zero":false},"axis":{"values":[1,18,35,52,68,85,102,119,136,153,169,186,203],"labelFontSize":12.5,"titleFontSize":11.5},"title":"progression rank based on the fragment-length CAG estimate (QFL)"},"y":{"field":"v","type":"quantitative","scale":{"domain":[-3,4],"nice":false,"zero":false},"axis":{"values":[-3,-2,-1,0,1,2,3,4],"labelFontSize":12.5,"minExtent":20,"maxExtent":20},"title":"QFL progression"}}},
     {"data":{"values":[{"z":0}]},"mark":{"type":"rule","color":"#000000","strokeWidth":1},"encoding":{"y":{"field":"z","type":"quantitative"}}},
     {"data":{"name":"Cc"},"mark":{"type":"point","filled":true,"size":65,"opacity":1,"strokeWidth":0.8},"encoding":{"x":{"field":"r","type":"quantitative"},"y":{"field":"v","type":"quantitative"},
       "shape":{"field":"g","type":"nominal","scale":{"domain":[0,2,4],"range":["triangle-up","diamond","triangle-down"]},"legend":{"title":null,"orient":"top-right","offset":1,"symbolSize":85,"labelExpr":"datum.value==0?'Q² = 0, n = 2':datum.value==2?'Q² = 2, n = 195':'Q² = 4, n = 6'"}},
       "fill":{"field":"g","type":"nominal","scale":{"domain":[0,2,4],"range":["#e0301e","#ffffff","#88e43c"]},"legend":{"title":null,"orient":"top-right","offset":1,"symbolSize":85,"labelExpr":"datum.value==0?'Q² = 0, n = 2':datum.value==2?'Q² = 2, n = 195':'Q² = 4, n = 6'"}},
       "stroke":{"field":"g","type":"nominal","scale":{"domain":[0,2,4],"range":["#b02010","#999999","#5cb82a"]},"legend":{"title":null,"orient":"top-right","offset":1,"symbolSize":85,"labelExpr":"datum.value==0?'Q² = 0, n = 2':datum.value==2?'Q² = 2, n = 195':'Q² = 4, n = 6'"}}}},
     {"data":{"values":[{"t":"TRACK-HD (n = 203)"}]},"mark":{"type":"text","align":"left","baseline":"middle","fontSize":11.5,"fontWeight":"bold","color":"#000000"},"encoding":{"x":{"datum":3,"type":"quantitative"},"y":{"datum":-2.45,"type":"quantitative"},"text":{"field":"t","type":"nominal"}}}
    ]},
   {"title":{"text":"D","offset":-4},"width":126,"height":108,
    "layer":[
     {"data":{"name":"D"},"mark":{"type":"rule","strokeWidth":1.5},"encoding":{"x":{"field":"q","type":"quantitative","scale":{"domain":[-1.2,5.25],"nice":false,"zero":false},"axis":{"values":[0,2,4]},"title":"Q2"},"y":{"field":"lo","type":"quantitative","scale":{"domain":[-2.3,4.75],"nice":false,"zero":false},"axis":{"values":[-2,0,2,4],"minExtent":19,"maxExtent":19},"title":"QFL progression"},"y2":{"field":"hi"},"color":{"field":"q","type":"nominal","scale":{"domain":[0,2,4],"range":["#e8303a","#000000","#8ee840"]},"legend":null}}},
     {"data":{"values":[{"z":0}]},"mark":{"type":"rule","color":"#888888","strokeWidth":1},"encoding":{"y":{"field":"z","type":"quantitative"}}},
     {"data":{"name":"D"},"mark":{"type":"tick","orient":"horizontal","size":22,"thickness":1.5},"encoding":{"x":{"field":"q","type":"quantitative"},"y":{"field":"lo","type":"quantitative"},"color":{"field":"q","type":"nominal","legend":null}}},
     {"data":{"name":"D"},"mark":{"type":"tick","orient":"horizontal","size":22,"thickness":1.5},"encoding":{"x":{"field":"q","type":"quantitative"},"y":{"field":"hi","type":"quantitative"},"color":{"field":"q","type":"nominal","legend":null}}},
     {"data":{"name":"D"},"mark":{"type":"point","shape":"diamond","filled":true,"size":40,"opacity":1},"encoding":{"x":{"field":"q","type":"quantitative"},"y":{"field":"m","type":"quantitative"},"color":{"field":"q","type":"nominal","legend":{"title":null,"orient":"top-right","offset":2,"symbolType":"diamond","symbolSize":110,"labelExpr":"'Q² = ' + datum.label"}}}},
     {"data":{"values":[{"t":"TRACK-HD\n(n = 203)"}]},"mark":{"type":"text","align":"left","baseline":"top","lineBreak":"\n","fontSize":11.5,"fontWeight":"bold","lineHeight":12,"color":"#000000"},"encoding":{"x":{"datum":-1.0,"type":"quantitative"},"y":{"datum":-0.4,"type":"quantitative"},"text":{"field":"t","type":"nominal"}}}
    ]}
  ]}
 ]},
 {"bounds":"flush","spacing":0,
  "resolve":{"scale":{"color":"independent","shape":"independent","fill":"independent","stroke":"independent"},"legend":{"color":"independent","shape":"independent","fill":"independent","stroke":"independent"}},
  "hconcat":[
  {"width":5,"height":1,"view":{"stroke":null},"data":{"values":[{}]},"mark":{"type":"point","opacity":0}},
  {"spacing":12,
   "resolve":{"scale":{"color":"independent","shape":"independent","fill":"independent","stroke":"independent"},"legend":{"color":"independent","shape":"independent","fill":"independent","stroke":"independent"}},
   "hconcat":[
   {"title":{"text":"E","offset":-1},"width":464,"height":108,
    "layer":[
     {"data":{"name":"Eg"},"mark":{"type":"point","shape":"diamond","filled":false,"color":"#9a9a9a","strokeWidth":0.8,"size":18},"encoding":{"x":{"field":"r","type":"quantitative","scale":{"domain":[1,203],"nice":false,"zero":false},"axis":{"values":[1,18,35,52,68,85,102,119,136,153,169,186,203],"labelFontSize":12.5,"titleFontSize":11.5},"title":"progression rank based on longest pure CAG tract (Q1)"},"y":{"field":"v","type":"quantitative","scale":{"domain":[-3,4],"nice":false,"zero":false},"axis":{"values":[-3,-2,-1,0,1,2,3,4],"labelFontSize":12.5,"minExtent":20,"maxExtent":20},"title":"Q1 progression"}}},
     {"data":{"values":[{"z":0}]},"mark":{"type":"rule","color":"#000000","strokeWidth":1},"encoding":{"y":{"field":"z","type":"quantitative"}}},
     {"data":{"name":"Ec"},"mark":{"type":"point","filled":true,"size":65,"opacity":0},"encoding":{"x":{"field":"r","type":"quantitative"},"y":{"field":"v","type":"quantitative"},
       "shape":{"field":"g","type":"nominal","scale":{"domain":[0,2,4],"range":["triangle-up","diamond","triangle-down"]},"legend":{"title":null,"orient":"top-right","offset":1,"symbolSize":85,"symbolOpacity":1,"labelExpr":"datum.value==0?'Q² = 0, n = 2':datum.value==2?'Q² = 2, n = 195':'Q² = 4, n = 6'"}},
       "fill":{"field":"g","type":"nominal","scale":{"domain":[0,2,4],"range":["#e0301e","#ffffff","#88e43c"]},"legend":{"title":null,"orient":"top-right","offset":1,"symbolSize":85,"symbolOpacity":1,"labelExpr":"datum.value==0?'Q² = 0, n = 2':datum.value==2?'Q² = 2, n = 195':'Q² = 4, n = 6'"}},
       "stroke":{"field":"g","type":"nominal","scale":{"domain":[0,2,4],"range":["#b02010","#999999","#5cb82a"]},"legend":{"title":null,"orient":"top-right","offset":1,"symbolSize":85,"symbolOpacity":1,"labelExpr":"datum.value==0?'Q² = 0, n = 2':datum.value==2?'Q² = 2, n = 195':'Q² = 4, n = 6'"}}}},
     {"data":{"name":"Ec"},"mark":{"type":"point","shape":"triangle-up","filled":true,"size":65,"opacity":1,"strokeWidth":0.8},"encoding":{"x":{"field":"r","type":"quantitative"},"y":{"field":"v","type":"quantitative"},"fill":{"field":"g","type":"nominal","legend":null},"stroke":{"field":"g","type":"nominal","legend":null}}},
     {"data":{"values":[{"t":"TRACK-HD (n = 203)"}]},"mark":{"type":"text","align":"left","baseline":"middle","fontSize":11.5,"fontWeight":"bold","color":"#000000"},"encoding":{"x":{"datum":3,"type":"quantitative"},"y":{"datum":-2.45,"type":"quantitative"},"text":{"field":"t","type":"nominal"}}}
    ]},
   {"title":{"text":"F","offset":-1},"width":126,"height":108,
    "layer":[
     {"data":{"name":"F"},"mark":{"type":"rule","strokeWidth":1.5},"encoding":{"x":{"field":"q","type":"quantitative","scale":{"domain":[-1.2,5.25],"nice":false,"zero":false},"axis":{"values":[0,2,4]},"title":"Q2"},"y":{"field":"lo","type":"quantitative","scale":{"domain":[-2.36,4.72],"nice":false,"zero":false},"axis":{"values":[-2,0,2,4],"minExtent":19,"maxExtent":19},"title":"Q1 progression"},"y2":{"field":"hi"},"color":{"field":"q","type":"nominal","scale":{"domain":[0,2,4],"range":["#e8303a","#000000","#8ee840"]},"legend":null}}},
     {"data":{"values":[{"z":0}]},"mark":{"type":"rule","color":"#888888","strokeWidth":1},"encoding":{"y":{"field":"z","type":"quantitative"}}},
     {"data":{"name":"F"},"mark":{"type":"tick","orient":"horizontal","size":22,"thickness":1.5},"encoding":{"x":{"field":"q","type":"quantitative"},"y":{"field":"lo","type":"quantitative"},"color":{"field":"q","type":"nominal","legend":null}}},
     {"data":{"name":"F"},"mark":{"type":"tick","orient":"horizontal","size":22,"thickness":1.5},"encoding":{"x":{"field":"q","type":"quantitative"},"y":{"field":"hi","type":"quantitative"},"color":{"field":"q","type":"nominal","legend":null}}},
     {"data":{"name":"F"},"mark":{"type":"point","shape":"diamond","filled":true,"size":40,"opacity":1},"encoding":{"x":{"field":"q","type":"quantitative"},"y":{"field":"m","type":"quantitative"},"color":{"field":"q","type":"nominal","legend":{"title":null,"orient":"top-right","offset":2,"symbolType":"diamond","symbolSize":110,"labelExpr":"'Q² = ' + datum.label"}}}},
     {"data":{"values":[{"t":"TRACK-HD\n(n = 203)"}]},"mark":{"type":"text","align":"left","baseline":"top","lineBreak":"\n","fontSize":11.5,"fontWeight":"bold","lineHeight":12,"color":"#000000"},"encoding":{"x":{"datum":-1.0,"type":"quantitative"},"y":{"datum":-0.45,"type":"quantitative"},"text":{"field":"t","type":"nominal"}}}
    ]}
  ]}
 ]},
 {"spacing":25,
  "resolve":{"scale":{"color":"independent","shape":"independent","fill":"independent","stroke":"independent"},"legend":{"color":"independent","shape":"independent","fill":"independent","stroke":"independent"}},
  "hconcat":[
  {"title":{"text":"G","offset":2},"width":119,"height":110,
   "layer":[
    {"data":{"name":"G"},"mark":{"type":"rule","strokeWidth":1.5},"encoding":{"x":{"field":"q","type":"quantitative","scale":{"domain":[-1.2,5.05],"nice":false,"zero":false},"axis":{"values":[0,2,4],"labelPadding":2,"titlePadding":7},"title":"Q2"},"y":{"field":"lo","type":"quantitative","scale":{"domain":[-0.77,6.32],"nice":false,"zero":false},"axis":{"values":[2,4,6],"minExtent":13,"maxExtent":13},"title":"Q1 TMS rate"},"y2":{"field":"hi"},"color":{"field":"q","type":"nominal","scale":{"domain":[0,2,4],"range":["#e8303a","#000000","#8ee840"]},"legend":null}}},
    {"data":{"name":"G"},"mark":{"type":"tick","orient":"horizontal","size":22,"thickness":1.5},"encoding":{"x":{"field":"q","type":"quantitative"},"y":{"field":"lo","type":"quantitative"},"color":{"field":"q","type":"nominal","legend":null}}},
    {"data":{"name":"G"},"mark":{"type":"tick","orient":"horizontal","size":22,"thickness":1.5},"encoding":{"x":{"field":"q","type":"quantitative"},"y":{"field":"hi","type":"quantitative"},"color":{"field":"q","type":"nominal","legend":null}}},
    {"data":{"name":"G"},"mark":{"type":"point","shape":"diamond","filled":true,"size":40,"opacity":1},"encoding":{"x":{"field":"q","type":"quantitative"},"y":{"field":"m","type":"quantitative"},"color":{"field":"q","type":"nominal","legend":{"title":null,"orient":"top-right","offset":2,"symbolType":"diamond","symbolSize":110,"labelExpr":"'Q² = ' + datum.label"}}}},
    {"data":{"values":[{"t":"TRACK-HD (n = 203)"}]},"mark":{"type":"text","align":"left","baseline":"middle","fontSize":10.5,"fontWeight":"bold","color":"#000000"},"encoding":{"x":{"datum":-0.95,"type":"quantitative"},"y":{"datum":-0.25,"type":"quantitative"},"text":{"field":"t","type":"nominal"}}}
   ]},
  {"title":{"text":"H","offset":2},"width":115,"height":110,
   "layer":[
    {"data":{"name":"H"},"mark":{"type":"rule","strokeWidth":1.5},"encoding":{"x":{"field":"q","type":"quantitative","scale":{"domain":[-1.17,5.2],"nice":false,"zero":false},"axis":{"values":[0,2,4],"labelPadding":2,"titlePadding":7},"title":"Q2"},"y":{"field":"lo","type":"quantitative","scale":{"domain":[-3.14,0.655],"nice":false,"zero":false},"axis":{"values":[-2,-1,0],"minExtent":19,"maxExtent":19},"title":"Q1 TFC rate"},"y2":{"field":"hi"},"color":{"field":"q","type":"nominal","scale":{"domain":[0,2,4],"range":["#e8303a","#000000","#8ee840"]},"legend":{"title":null,"orient":"bottom-right","offset":17,"symbolType":"diamond","symbolSize":110,"symbolStrokeWidth":2,"labelExpr":"'Q² = ' + datum.label"}}}},
    {"data":{"values":[{"z":0}]},"mark":{"type":"rule","color":"#333333","strokeWidth":1},"encoding":{"y":{"field":"z","type":"quantitative"}}},
    {"data":{"name":"H"},"mark":{"type":"tick","orient":"horizontal","size":22,"thickness":1.5},"encoding":{"x":{"field":"q","type":"quantitative"},"y":{"field":"lo","type":"quantitative"},"color":{"field":"q","type":"nominal","legend":null}}},
    {"data":{"name":"H"},"mark":{"type":"tick","orient":"horizontal","size":22,"thickness":1.5},"encoding":{"x":{"field":"q","type":"quantitative"},"y":{"field":"hi","type":"quantitative"},"color":{"field":"q","type":"nominal","legend":null}}},
    {"data":{"name":"H"},"mark":{"type":"point","shape":"diamond","filled":true,"size":40,"opacity":1},"encoding":{"x":{"field":"q","type":"quantitative"},"y":{"field":"m","type":"quantitative"},"color":{"field":"q","type":"nominal","legend":null}}},
    {"data":{"values":[{"t":"TRACK-HD (n = 203)"}]},"mark":{"type":"text","align":"left","baseline":"middle","fontSize":10.5,"fontWeight":"bold","color":"#000000"},"encoding":{"x":{"datum":-1.0,"type":"quantitative"},"y":{"datum":-2.86,"type":"quantitative"},"text":{"field":"t","type":"nominal"}}}
   ]},
  {"title":{"text":"I","offset":2},"width":122,"height":110,
   "layer":[
    {"data":{"name":"I"},"mark":{"type":"rule","strokeWidth":1.5},"encoding":{"x":{"field":"q","type":"quantitative","scale":{"domain":[-1.18,5.08],"nice":false,"zero":false},"axis":{"values":[0,2,4],"labelPadding":2,"titlePadding":7},"title":"Q2"},"y":{"field":"lo","type":"quantitative","scale":{"domain":[-0.45,9.35],"nice":false,"zero":false},"axis":{"values":[2,4,6,8],"minExtent":13,"maxExtent":13},"title":"Q1 corrected TMS"},"y2":{"field":"hi"},"color":{"field":"q","type":"nominal","scale":{"domain":[0,2,4],"range":["#e8303a","#000000","#8ee840"]},"legend":null}}},
    {"data":{"name":"I"},"mark":{"type":"tick","orient":"horizontal","size":22,"thickness":1.5},"encoding":{"x":{"field":"q","type":"quantitative"},"y":{"field":"lo","type":"quantitative"},"color":{"field":"q","type":"nominal","legend":null}}},
    {"data":{"name":"I"},"mark":{"type":"tick","orient":"horizontal","size":22,"thickness":1.5},"encoding":{"x":{"field":"q","type":"quantitative"},"y":{"field":"hi","type":"quantitative"},"color":{"field":"q","type":"nominal","legend":null}}},
    {"data":{"name":"I"},"mark":{"type":"point","shape":"diamond","filled":true,"size":40,"opacity":1},"encoding":{"x":{"field":"q","type":"quantitative"},"y":{"field":"m","type":"quantitative"},"color":{"field":"q","type":"nominal","legend":{"title":null,"orient":"top-right","offset":2,"symbolType":"diamond","symbolSize":110,"labelExpr":"'Q² = ' + datum.label"}}}},
    {"data":{"values":[{"t":"TRACK-HD (n = 203)\nand Enroll-HD (n = 531)"}]},"mark":{"type":"text","align":"left","baseline":"top","lineBreak":"\n","fontSize":10.3,"fontWeight":"bold","lineHeight":12,"color":"#000000"},"encoding":{"x":{"datum":-0.95,"type":"quantitative"},"y":{"datum":1.9,"type":"quantitative"},"text":{"field":"t","type":"nominal"}}}
   ]},
  {"title":{"text":"J","offset":2},"width":121,"height":110,
   "layer":[
    {"data":{"name":"J"},"mark":{"type":"rule","strokeWidth":1.5},"encoding":{"x":{"field":"q","type":"quantitative","scale":{"domain":[-1.23,5.08],"nice":false,"zero":false},"axis":{"values":[0,2,4],"labelPadding":2,"titlePadding":7},"title":"Q2"},"y":{"field":"lo","type":"quantitative","scale":{"domain":[-0.45,9.35],"nice":false,"zero":false},"axis":{"values":[2,4,6,8],"minExtent":13,"maxExtent":13},"title":"QFL corrected TMS"},"y2":{"field":"hi"},"color":{"field":"q","type":"nominal","scale":{"domain":[0,2,4],"range":["#e8303a","#000000","#8ee840"]},"legend":null}}},
    {"data":{"name":"J"},"mark":{"type":"tick","orient":"horizontal","size":22,"thickness":1.5},"encoding":{"x":{"field":"q","type":"quantitative"},"y":{"field":"lo","type":"quantitative"},"color":{"field":"q","type":"nominal","legend":null}}},
    {"data":{"name":"J"},"mark":{"type":"tick","orient":"horizontal","size":22,"thickness":1.5},"encoding":{"x":{"field":"q","type":"quantitative"},"y":{"field":"hi","type":"quantitative"},"color":{"field":"q","type":"nominal","legend":null}}},
    {"data":{"name":"J"},"mark":{"type":"point","shape":"diamond","filled":true,"size":40,"opacity":1},"encoding":{"x":{"field":"q","type":"quantitative"},"y":{"field":"m","type":"quantitative"},"color":{"field":"q","type":"nominal","legend":{"title":null,"orient":"top-right","offset":2,"symbolType":"diamond","symbolSize":110,"labelExpr":"'Q² = ' + datum.label"}}}},
    {"data":{"values":[{"t":"TRACK-HD (n = 203)\nand Enroll-HD (n = 531)"}]},"mark":{"type":"text","align":"left","baseline":"top","lineBreak":"\n","fontSize":10.3,"fontWeight":"bold","lineHeight":12,"color":"#000000"},"encoding":{"x":{"datum":-1.0,"type":"quantitative"},"y":{"datum":1.9,"type":"quantitative"},"text":{"field":"t","type":"nominal"}}}
   ]}
 ]}
]
}
